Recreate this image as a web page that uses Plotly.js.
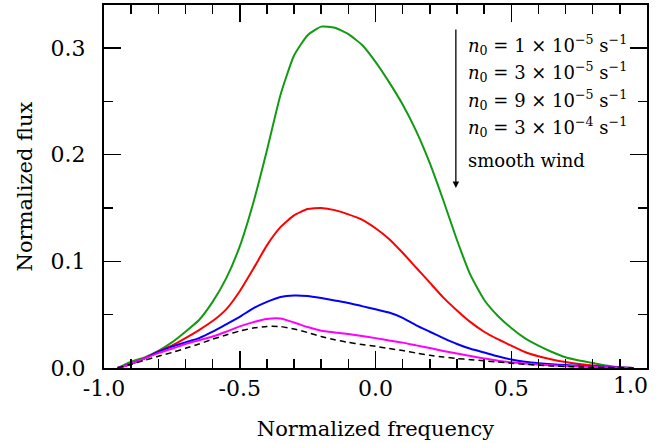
<!DOCTYPE html>
<html>
<head>
<meta charset="utf-8">
<script src="https://cdn.plot.ly/plotly-3.0.1.min.js"></script>
<style>
html,body{margin:0;padding:0;background:#fff;}
#chart{width:658px;height:443px;}
</style>
</head>
<body>
<div id="chart"></div>
<script>
var freq = [-0.95,-0.9,-0.85,-0.8,-0.75,-0.7,-0.65,-0.6,-0.55,-0.5,-0.45,-0.4,-0.35,-0.3,-0.25,-0.2,-0.15,-0.1,-0.05,0,
            0.05,0.1,0.15,0.2,0.25,0.3,0.35,0.4,0.45,0.5,0.55,0.6,0.65,0.7,0.75,0.8,0.85,0.9,0.95];

var fluxN1e5 = [0,0.006,0.010,0.016,0.024,0.034,0.045,0.062,0.084,0.114,0.155,0.204,0.256,0.293,0.312,0.320,0.319,0.313,0.303,0.287,
                0.268,0.247,0.222,0.192,0.157,0.12,0.087,0.064,0.049,0.0375,0.028,0.021,0.015,0.010,0.007,0.0047,0.0023,0.0005,0];
var fluxN3e5 = [0,0.004,0.009,0.0155,0.021,0.028,0.0356,0.044,0.055,0.072,0.093,0.115,0.132,0.143,0.149,0.150,0.148,0.144,0.139,0.131,
                0.121,0.108,0.094,0.080,0.066,0.054,0.043,0.034,0.027,0.021,0.015,0.011,0.008,0.0056,0.0038,0.0023,0.0014,0.0005,0];
var fluxN9e5 = [0,0.004,0.009,0.015,0.020,0.024,0.028,0.034,0.041,0.048,0.056,0.062,0.0666,0.068,0.0675,0.0656,0.0633,0.061,0.058,0.055,
                0.052,0.047,0.040,0.034,0.028,0.0225,0.018,0.0145,0.011,0.008,0.0058,0.0044,0.0034,0.0027,0.002,0.0015,0.001,0.0005,0];
var fluxN3e4 = [0,0.004,0.009,0.014,0.018,0.0225,0.026,0.0295,0.034,0.039,0.043,0.046,0.0464,0.0427,0.0384,0.0350,0.0333,0.0319,0.030,0.028,
                0.0258,0.0238,0.0212,0.0187,0.016,0.0136,0.0112,0.009,0.0069,0.0053,0.0042,0.0033,0.0025,0.0019,0.0014,0.0009,0.0006,0.0003,0];
var fluxSmooth = [0,0.0035,0.0072,0.011,0.0145,0.0185,0.0225,0.027,0.031,0.0347,0.0375,0.039,0.0389,0.0366,0.0333,0.0295,0.0265,0.024,0.022,0.0203,
                  0.0183,0.0163,0.014,0.0119,0.0103,0.0089,0.0078,0.0067,0.0056,0.0045,0.0034,0.0026,0.0019,0.0014,0.001,0.0007,0.0004,0.0002,0];

var seriesNames = ["n0 = 1e-5", "n0 = 3e-5", "n0 = 9e-5", "n0 = 3e-4", "smooth wind"];
var legendLines = [
  "<i>n</i><sub>0</sub> = 1 × 10<sup>−5</sup> s<sup>−1</sup>",
  "<i>n</i><sub>0</sub> = 3 × 10<sup>−5</sup> s<sup>−1</sup>",
  "<i>n</i><sub>0</sub> = 9 × 10<sup>−5</sup> s<sup>−1</sup>",
  "<i>n</i><sub>0</sub> = 3 × 10<sup>−4</sup> s<sup>−1</sup>",
  "smooth wind"
];
var xTickVals = [-1.0,-0.5,0.0,0.5,1.0];
var xTickText = ["-1.0","-0.5","0.0","0.5",""];
var lastXTick = "1.0";
var yTickVals = [0.0,0.1,0.2,0.3];
var yTickText = ["0.0","0.1","0.2","0.3"];

var fontFam = "DejaVu Serif";
var ys = [fluxN1e5, fluxN3e5, fluxN9e5, fluxN3e4, fluxSmooth];
var colors = ["#139a13", "#ff0000", "#0000ff", "#ff00ff", "#000000"];
var dashes = ["solid","solid","solid","solid","6px,4px"];
var widths = [2,2,2,2,1.5];

var traces = ys.map(function(y,i){
  return {x: freq, y: y, type: "scatter", mode: "lines", name: seriesNames[i],
          line: {color: colors[i], width: widths[i], dash: dashes[i], shape: "spline", smoothing: 0.5}};
});

var annYs = [0.890, 0.815, 0.739, 0.664, 0.573];
var annotations = legendLines.map(function(t,i){
  return {xref:"paper", yref:"paper", x:0.666, y:annYs[i], xanchor:"left", yanchor:"middle",
          text:t, showarrow:false, font:{family:fontFam, size:18, color:"#000"}};
});
annotations.push({xref:"paper", yref:"paper", x:0.648, y:0.496, ax:0, ay:-160, axref:"pixel", ayref:"pixel",
  text:"", showarrow:true, arrowhead:2, arrowsize:1, arrowwidth:1.3, arrowcolor:"#000"});
annotations.push({xref:"x", yref:"paper", x:1.0, y:0, xanchor:"right", yanchor:"top", xshift:3, yshift:-3,
  text:lastXTick, showarrow:false, font:{family:fontFam, size:22, color:"#000"}});

var layout = {
  width: 658, height: 443,
  margin: {l:104, r:11, t:5, b:75},
  paper_bgcolor: "#fff", plot_bgcolor: "#fff",
  showlegend: false,
  font: {family: fontFam, color: "#000"},
  xaxis: {
    range: [-1, 1], tickmode: "array", tickvals: xTickVals, ticktext: xTickText,
    ticks: "inside", ticklen: 17, tickwidth: 1.5, tickcolor: "#000",
    minor: {dtick: 0.1, tick0: 0, ticks: "inside", ticklen: 9, tickwidth: 1.5, tickcolor: "#000"},
    showline: true, linewidth: 2, linecolor: "#000", mirror: "allticks",
    showgrid: false, zeroline: false,
    tickfont: {family: fontFam, size: 22, color: "#000"},
    title: {text: "Normalized frequency", font: {family: fontFam, size: 21, color: "#000"}, standoff: 21}
  },
  yaxis: {
    range: [0, 0.3403], tickmode: "array", tickvals: yTickVals, ticktext: yTickText,
    ticks: "inside", ticklen: 17, tickwidth: 1.5, tickcolor: "#000",
    minor: {dtick: 0.05, tick0: 0, ticks: "inside", ticklen: 9, tickwidth: 1.5, tickcolor: "#000"},
    showline: true, linewidth: 2, linecolor: "#000", mirror: "allticks",
    showgrid: false, zeroline: false,
    tickfont: {family: fontFam, size: 22, color: "#000"},
    ticklabelstandoff: 12,
    title: {text: "Normalized flux", font: {family: fontFam, size: 21, color: "#000"}, standoff: 12}
  },
  annotations: annotations
};

Plotly.newPlot("chart", traces, layout, {staticPlot: true, displayModeBar: false});
</script>
</body>
</html>
